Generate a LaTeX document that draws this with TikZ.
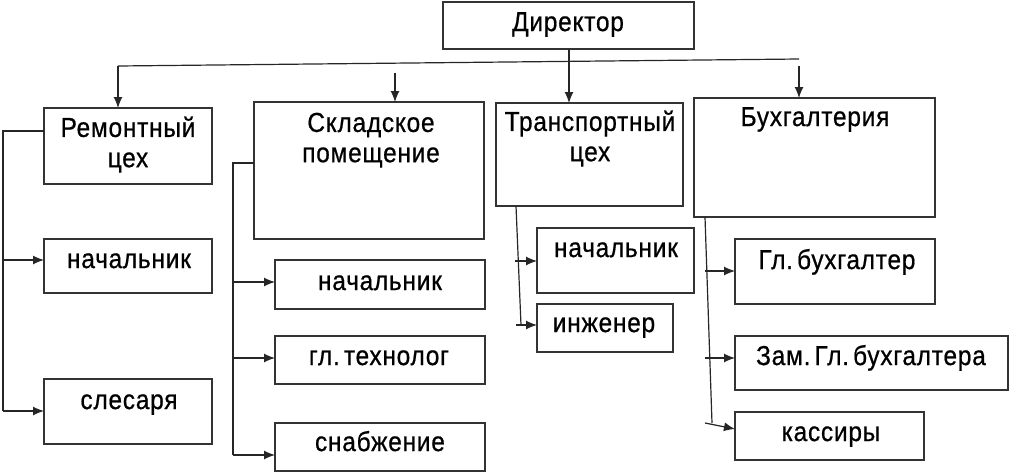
\documentclass[tikz,border=0pt]{standalone}
\usepackage{fontspec}
\setmainfont[FakeBold=0.7,LetterSpace=3]{Liberation Sans}
\usepackage{graphicx}
\usetikzlibrary{arrows.meta,fit}
\newcommand{\lbltxt}[1]{\scalebox{1}[1.12]{\begin{tabular}{@{}c@{}}#1\end{tabular}}}
\begin{document}
\begin{tikzpicture}[x=1pt,y=-1pt,
  box/.style={draw=black!80, line width=1.3pt, inner sep=0pt, outer sep=0pt},
  txt/.style={inner sep=0pt, font=\fontsize{24.5}{27}\selectfont, text=black},
  conn/.style={draw=black!85, line width=1.2pt},
  arr/.style={conn, -{Latex[length=11pt,width=9pt]}}]
\useasboundingbox (0,0) rectangle (1010,472);
% boxes
\node[box, fit={(443,2) (694,49)}] (dir) {};
\node[box, fit={(44,108) (212,184)}] (rem) {};
\node[box, fit={(254,102) (484,239)}] (skl) {};
\node[box, fit={(496,103) (683,206)}] (trn) {};
\node[box, fit={(694,98) (935,217)}] (buh) {};
\node[box, fit={(44,239) (212,293)}] (rn) {};
\node[box, fit={(44,379) (212,444)}] (rs) {};
\node[box, fit={(275,260) (485,309)}] (sn) {};
\node[box, fit={(275,336) (485,384)}] (st) {};
\node[box, fit={(275,423) (485,471)}] (ss) {};
\node[box, fit={(537,228) (694,293)}] (tn) {};
\node[box, fit={(537,304) (673,352)}] (ti) {};
\node[box, fit={(735,239) (935,304)}] (bg) {};
\node[box, fit={(735,336) (1008,390)}] (bz) {};
\node[box, fit={(735,412) (924,460)}] (bk) {};
% texts
\node[txt] (dirT) at (568,25) {\lbltxt{Директор}};
\node[txt] (remT) at (128,146) {\lbltxt{Ремонтный\\цех}};
\node[txt] (sklT) at (371,141) {\lbltxt{Складское\\помещение}};
\node[txt] (trnT) at (590,140) {\lbltxt{Транспортный\\цех}};
\node[txt] (buhT) at (815,120) {\lbltxt{Бухгалтерия}};
\node[txt] (rnT) at (129,262) {\lbltxt{начальник}};
\node[txt] (rsT) at (129,403) {\lbltxt{слесаря}};
\node[txt] (snT) at (380,284) {\lbltxt{начальник}};
\node[txt] (stT) at (379,359) {\lbltxt{гл.\,технолог}};
\node[txt] (ssT) at (380,445) {\lbltxt{снабжение}};
\node[txt] (tnT) at (616,251) {\lbltxt{начальник}};
\node[txt] (tiT) at (604,326) {\lbltxt{инженер}};
\node[txt] (bgT) at (837,263) {\lbltxt{Гл.\,бухгалтер}};
\node[txt] (bzT) at (871,359) {\lbltxt{Зам.\,Гл.\,бухгалтера}};
\node[txt] (bkT) at (831,435) {\lbltxt{кассиры}};
% top connectors
\coordinate (barL) at (118,66);
\coordinate (barR) at (799,59);
\coordinate (sa) at (395,73);
\coordinate (ba) at (799,66);
\draw[conn] (barL) -- (barR);
\draw[arr] (dir.south -| 569,0) -- (569,0 |- trn.north);
\draw[arr] (barL) -- (barL |- rem.north);
\draw[arr] (sa) -- (sa |- skl.north);
\draw[arr] (ba) -- (ba |- buh.north);
% Ремонтный цех
\coordinate (r0) at (3,131);
\coordinate (r1) at (3,260);
\coordinate (r2) at (3,411);
\draw[conn] (rem.west |- r0) -- (r0) -- (r2);
\draw[arr] (r1) -- (r1 -| rn.west);
\draw[arr] (r2) -- (r2 -| rs.west);
% Складское помещение
\coordinate (s0) at (233,163);
\coordinate (s1) at (233,282);
\coordinate (s2) at (233,358);
\coordinate (s3) at (233,455);
\draw[conn] (skl.west |- s0) -- (s0) -- (s3);
\draw[arr] (s1) -- (s1 -| sn.west);
\draw[arr] (s2) -- (s2 -| st.west);
\draw[arr] (s3) -- (s3 -| ss.west);
% Транспортный цех
\coordinate (t0) at (516,206);
\coordinate (t3) at (521,325);
\coordinate (t1) at (515,261);
\coordinate (t2) at (516,325);
\draw[conn] (t0) -- (t3);
\draw[arr] (t1) -- (t1 -| tn.west);
\draw[arr] (t2) -- (t2 -| ti.west);
% Бухгалтерия
\coordinate (b0) at (705,217);
\coordinate (b4) at (712,423);
\coordinate (b1) at (705,271);
\coordinate (b2) at (705,358);
\coordinate (b3) at (705,423);
\coordinate (b3e) at (735,429);
\draw[conn] (b0) -- (b4);
\draw[arr] (b1) -- (b1 -| bg.west);
\draw[arr] (b2) -- (b2 -| bz.west);
\draw[arr] (b3) -- (b3e);
\end{tikzpicture}
\end{document}
